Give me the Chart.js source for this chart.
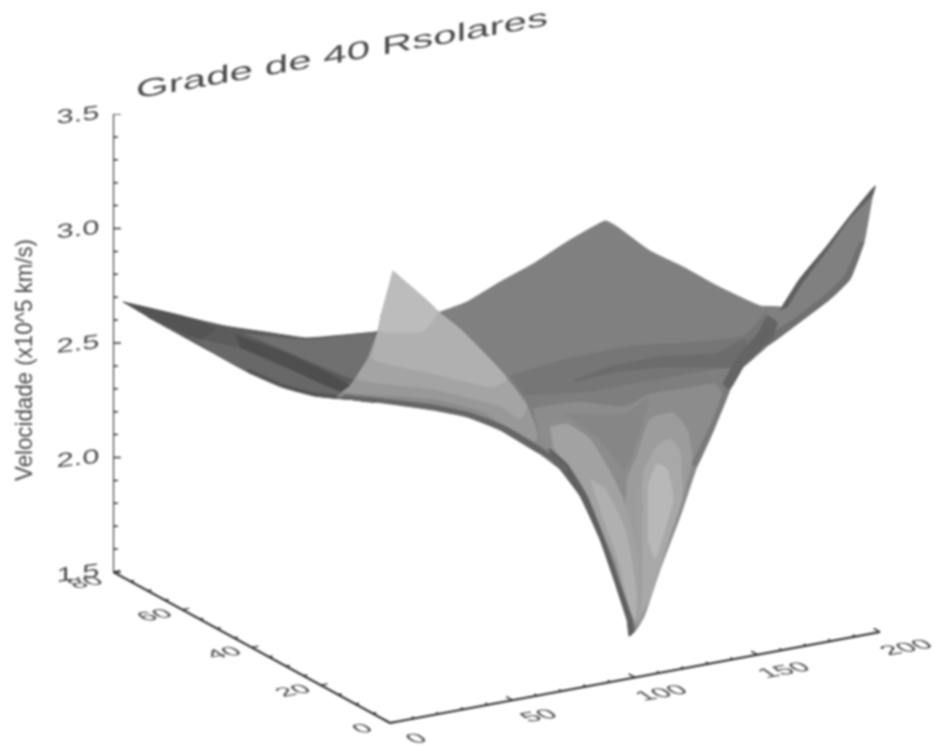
<!DOCTYPE html>
<html>
<head>
<meta charset="utf-8">
<title>Grade de 40 Rsolares</title>
<script src="https://cdn.jsdelivr.net/npm/chart.js@4"></script>
<style>
  html, body { margin: 0; background: #fff; }
  #surface { display: block; filter: blur(1px); }
</style>
</head>
<body>
<canvas id="surface" width="937" height="746"></canvas>
<script>
// ===== Axis values =====
const chartTitle = 'Grade de 40 Rsolares';
const velocityLabel = 'Velocidade (x10^5 km/s)';
const velocityTicks = [1.5, 2.0, 2.5, 3.0, 3.5];
const velocityMinor = [1.6, 1.7, 1.8, 1.9, 2.1, 2.2, 2.3, 2.4, 2.6, 2.7, 2.8, 2.9, 3.1, 3.2, 3.3, 3.4];
const lengthTicks = [0, 50, 100, 150, 200];
const lengthMinor = [10, 20, 30, 40, 60, 70, 80, 90, 110, 120, 130, 140, 160, 170, 180, 190];
const depthTicks = [0, 20, 40, 60, 80];
const depthMinor = [5, 10, 15, 25, 30, 35, 45, 50, 55, 65, 70, 75];

// ===== Surface regions: [length along the front axis, velocity] =====
const wingBase = [[-109.0,2.679],[-84.9,2.618],[-67.3,2.574],[-51.0,2.548],[-34.7,2.522],[-27.8,2.526],[-6.1,2.548],[0,2.56],[0,2.30],[-6.1,2.242],[-17.1,2.255],[-30.6,2.269],[-44.1,2.308],[-58.0,2.373],[-71.4,2.452],[-84.9,2.531],[-98.8,2.613]];
const wingUpper = [[-59.2,2.539],[-34.7,2.513],[-27.8,2.517],[-2,2.54],[-2,2.387],[-14.3,2.343],[-36.7,2.439]];
const wingLower = [[-81.6,2.526],[-57.1,2.465],[-32.7,2.365],[-18.4,2.290],[-17.1,2.255],[-30.6,2.269],[-44.1,2.308],[-58.0,2.373],[-71.4,2.452]];
const wingStreak = [[-63.3,2.535],[-44.9,2.465],[-24.5,2.365],[-16.3,2.308],[-20.4,2.290],[-40.8,2.387],[-61.2,2.482]];
const wingTip = [[-109.0,2.679],[-84.9,2.618],[-71.4,2.561],[-77.6,2.517],[-98.8,2.613]];
const wingEdge = [[-58.0,2.373],[-44.1,2.308],[-30.6,2.269],[-17.1,2.255],[-6.1,2.242],[-6.1,2.255],[-17.1,2.268],[-30.6,2.282],[-44.1,2.321],[-58.0,2.387]];

const farSheet = [[19.2,2.63],[31.4,2.679],[44.9,2.766],[58.4,2.845],[72.2,2.941],[87.8,3.033],[92.7,3.007],[106.1,2.902],[119.6,2.832],[133.5,2.749],[151.0,2.662],[160.0,2.653],[153.9,2.487],[144.5,2.400],[126.5,2.168],[102.0,1.731],[40,2.2],[15,2.58]];
const rightWing = [[160.0,2.657],[167.3,2.780],[178.4,2.924],[187.8,3.055],[198.0,3.186],[196.7,3.129],[193.5,2.941],[187.8,2.780],[179.6,2.692],[167.3,2.592],[153.9,2.487],[144.5,2.400],[153.9,2.635]];
const rightWingTop = [[159.2,2.644],[167.3,2.780],[178.4,2.924],[187.8,3.055],[198.0,3.186],[196.7,3.146],[187.4,3.040],[178.4,2.905],[168.4,2.765],[162,2.655]];
const rightWingLow = [[193.5,2.941],[187.8,2.780],[179.6,2.692],[167.3,2.592],[153.9,2.487],[151.8,2.508],[166.1,2.613],[178.0,2.712],[185.7,2.795],[191.8,2.941]];
const sheetBand = [[49.0,2.356],[72.2,2.430],[99.6,2.487],[126.5,2.504],[144.5,2.531],[153.9,2.635],[144.5,2.400],[133.5,2.387],[103.3,2.330],[81.6,2.286],[57.1,2.255],[54.7,2.269]];
const sheetStreak = [[75.5,2.339],[89.8,2.395],[110.2,2.439],[133.5,2.456],[144.9,2.517],[144.9,2.408],[135.9,2.395],[110.2,2.395],[89.8,2.369],[75.5,2.330]];
const junction = [[153.9,2.62],[158,2.59],[155.5,2.517],[144.5,2.400],[138.8,2.299],[136,2.321],[142.2,2.439],[150,2.539]];

const innerBase = [[54.7,2.269],[81.6,2.286],[103.3,2.330],[130.6,2.356],[140.8,2.378],[138.8,2.299],[132.2,2.124],[125.3,1.963],[118.4,1.745],[110.2,1.513],[103.7,1.308],[99.6,1.238],[96.7,1.295],[91.4,1.469],[85.7,1.644],[77.6,1.832],[69.4,1.950],[60.0,2.111]];
const innerMid = [[58.4,2.212],[76.3,2.242],[95.9,2.221],[106.1,2.277],[119.6,2.299],[132.7,2.321],[135.5,2.277],[132.2,2.124],[125.3,1.963],[118.4,1.745],[110.2,1.513],[103.7,1.308],[99.6,1.238],[96.7,1.295],[91.4,1.469],[85.7,1.644],[77.6,1.832],[69.4,1.950],[61.2,2.081]];
const valley = [[71.4,2.190],[95.9,2.190],[105.3,2.255],[102.0,2.124],[95.9,1.950],[85.7,2.081]];
const archOuter = [[96.7,1.906],[100.8,2.006],[106.1,2.168],[115.5,2.194],[121.2,2.124],[123.3,1.993],[117.1,1.745],[110.2,1.513],[102.0,1.275],[99.6,1.275],[94.7,1.557]];
const archMid = [[103.3,1.937],[109.0,2.050],[114.3,2.081],[118.4,2.024],[119.2,1.819],[113.5,1.644],[106.1,1.382],[102.0,1.317],[101.2,1.644]];
const archInner = [[105.3,1.875],[109.0,1.972],[113.1,1.950],[115.5,1.819],[112.2,1.688],[108.2,1.557],[105.3,1.644]];
const column = [[100.4,1.862],[102.9,1.862],[102.4,1.338],[100.4,1.338]];
const lobeOuter = [[65.3,2.133],[72.2,2.146],[81.6,2.081],[89.8,1.937],[95.1,1.819],[101.2,1.557],[102.0,1.295],[98.0,1.295],[91.8,1.557],[78.8,1.832],[66.5,2.050]];
const lobeInner = [[81.6,1.906],[87.8,1.862],[95.9,1.688],[100.4,1.426],[100.0,1.295],[98.0,1.338],[93.1,1.557],[85.7,1.775]];
const lowerEdge = [[61.2,2.037],[69.4,1.950],[77.6,1.832],[85.7,1.644],[91.4,1.469],[96.7,1.295],[97.6,1.220],[99.6,1.238],[98.8,1.295],[92.9,1.478],[87.0,1.658],[80.4,1.832],[72.3,1.972],[65.3,2.037]];
const rightEdge = [[140.8,2.378],[138.8,2.299],[132.2,2.124],[125.3,1.963],[123.3,1.972],[130.6,2.133],[137.1,2.308]];

const foldBase = [[1.2,2.814],[19.2,2.640],[28.6,2.561],[39.6,2.443],[47.8,2.343],[55.9,2.225],[60.0,2.111],[66.5,1.993],[58.4,2.037],[44.9,2.124],[31.4,2.181],[17.6,2.212],[-2.9,2.242],[-21.6,2.264],[-16.3,2.312],[-9.0,2.430],[-4.9,2.548],[-3.3,2.635]];
const foldBandB = [[1.2,2.814],[19.2,2.640],[28.6,2.561],[39.6,2.443],[47.8,2.343],[55.9,2.225],[60.0,2.111],[58.4,2.050],[38.0,2.199],[17.6,2.255],[-19.2,2.286],[-16.3,2.312],[-9.0,2.430],[-4.9,2.548],[-3.3,2.635]];
const foldBandC = [[1.2,2.814],[19.2,2.640],[28.6,2.561],[39.6,2.443],[47.8,2.343],[55.9,2.225],[53.1,2.168],[44.9,2.225],[17.6,2.299],[-13.5,2.343],[-9.0,2.430],[-4.9,2.548],[-3.3,2.635]];
const foldBandD = [[1.2,2.814],[19.2,2.640],[28.6,2.561],[39.6,2.443],[47.8,2.343],[42.0,2.308],[31.4,2.330],[15.1,2.373],[-6.9,2.430],[-4.9,2.548],[-3.3,2.635]];
const foldTip = [[1.2,2.814],[19.2,2.640],[13.5,2.552],[-4.1,2.552],[-3.3,2.635]];
const foldEdge = [[-21.6,2.260],[-2.9,2.238],[17.6,2.207],[31.4,2.177],[44.9,2.120],[58.4,2.033],[66.5,1.985],[71.4,1.930],[72.2,1.959],[61.2,2.046],[46.9,2.137],[32.7,2.194],[17.6,2.229],[-2.9,2.255],[-18.4,2.273]];

// back to front, each with its gray level
const surfaceRegions = [wingBase, wingUpper, wingLower, wingStreak, wingTip, wingEdge,
  farSheet, rightWing, rightWingTop, rightWingLow, sheetBand, sheetStreak, innerBase, innerMid, valley,
  archOuter, archMid, archInner, column, lobeOuter, lobeInner, lowerEdge, rightEdge, junction,
  foldBase, foldBandB, foldBandC, foldBandD, foldTip, foldEdge];
const surfaceGrays = [0x5c, 0x70, 0x68, 0x4e, 0x54, 0x55,
  0x80, 0x80, 0x5e, 0x70, 0x76, 0x6c, 0x7e, 0x8c, 0x86,
  0x9c, 0xa8, 0xb8, 0x9e, 0xa2, 0xb0, 0x60, 0x7a, 0x64,
  0x8a, 0x98, 0xa4, 0xb0, 0xbc, 0x66];

// ===== Oblique projection of the floor axes onto the chart's x/y scales =====
const projX = (len, depth) => len - depth * 1.413;
const projY = (len, depth, vel) => vel - 0.659 + (len * 0.455 + depth * 1.8875) / 229;

function tickSegments(values, from, to) {
  const pts = [];
  values.forEach(v => {
    pts.push(from(v), to(v), { x: NaN, y: NaN });
  });
  return pts;
}

const axisPoints = [
  { x: projX(0, 80), y: 3.5 }, { x: projX(0, 80), y: 1.5 }, { x: projX(0, 0), y: projY(0, 0, 1.5) },
  { x: projX(200, 0), y: projY(200, 0, 1.5) }
];
const floor = (l, d) => ({ x: projX(l, d), y: projY(l, d, 1.5) });
const axisTicks = [
  ...tickSegments(velocityTicks, v => ({ x: projX(0, 80), y: v }), v => ({ x: projX(0, 80) + 3.2, y: v })),
  ...tickSegments(velocityMinor, v => ({ x: projX(0, 80), y: v }), v => ({ x: projX(0, 80) + 2, y: v })),
  ...tickSegments(lengthTicks, l => floor(l, 0), l => floor(l, 1.8)),
  ...tickSegments(lengthMinor, l => floor(l, 0), l => floor(l, 0.8)),
  ...tickSegments(depthTicks, d => floor(0, d), d => floor(2.8, d)),
  ...tickSegments(depthMinor, d => floor(0, d), d => floor(1.5, d))
];

function gray(g) { return `rgb(${g},${g},${g})`; }

// Chart.js paints the first dataset last, so the list is reversed
const regionSets = surfaceRegions.map((pts, i) => ({
  data: pts.map(p => ({ x: p[0], y: p[1] })),
  showLine: true, fill: 'shape', pointRadius: 0, borderWidth: 1, tension: 0.15,
  backgroundColor: gray(surfaceGrays[i]), borderColor: gray(surfaceGrays[i])
})).reverse();

const axisSets = [
  { data: axisPoints, showLine: true, fill: false, pointRadius: 0, borderWidth: 2, borderColor: '#2a2a2a' },
  { data: axisTicks, showLine: true, fill: false, pointRadius: 0, borderWidth: 1.5, borderColor: '#333', spanGaps: false }
];

// ===== Slanted text =====
function slantText(ctx, text, cx, cy, width, size, slope, shear, down, family) {
  ctx.save();
  ctx.font = `${size}px ${family || '"Liberation Sans"'}`;
  ctx.fillStyle = '#4a4a4a';
  ctx.textAlign = 'center';
  ctx.textBaseline = 'middle';
  const sx = width / ctx.measureText(text).width;
  ctx.transform(sx, -slope * sx, shear, down, cx, cy);
  ctx.fillText(text, 0, 0);
  ctx.restore();
}

const labelsPlugin = {
  id: 'labels3d',
  afterDraw(chart) {
    const { ctx, scales: { x, y } } = chart;
    slantText(ctx, chartTitle, 342, 55, 412, 25, 0.178, 0, 1);

    velocityTicks.forEach(v => {
      slantText(ctx, v.toFixed(1), 78, y.getPixelForValue(v) + 2, 43, 20, 0.12, 0, 1);
    });

    lengthTicks.forEach(l => {
      const w = String(l).length * 15.5;
      const px = x.getPixelForValue(projX(l, 0)) + 27;
      const py = y.getPixelForValue(projY(l, 0, 1.5)) + 16;
      slantText(ctx, String(l), px, py, w, 20, 0.186, 0.85, 0.6);
    });

    depthTicks.forEach(d => {
      const w = String(d).length * 15;
      const px = x.getPixelForValue(projX(0, d)) - 27;
      const py = y.getPixelForValue(projY(0, d, 1.5)) + (d === 80 ? 11 : 6);
      slantText(ctx, String(d), px, py, w, 19, 0.186, 0.85, 0.6);
    });

    ctx.save();
    ctx.translate(25, 360);
    ctx.rotate(-Math.PI / 2);
    slantText(ctx, velocityLabel, 0, 0, 242, 24, 0, 0, 1, '"Liberation Sans Narrow", "Liberation Sans"');
    ctx.restore();
  }
};

// ===== Chart =====
const surfaceChart = new Chart(document.getElementById('surface').getContext('2d'), {
  type: 'scatter',
  data: { datasets: [...axisSets, ...regionSets] },
  options: {
    responsive: false,
    animation: false,
    layout: { padding: { left: 113, top: 114, right: 0, bottom: 1 } },
    scales: {
      x: { type: 'linear', display: false, min: -113.06, max: 223.27 },
      y: { type: 'linear', display: false, min: 0.7445, max: 3.5 }
    },
    plugins: { legend: { display: false }, tooltip: { enabled: false } }
  },
  plugins: [labelsPlugin]
});
</script>
</body>
</html>
